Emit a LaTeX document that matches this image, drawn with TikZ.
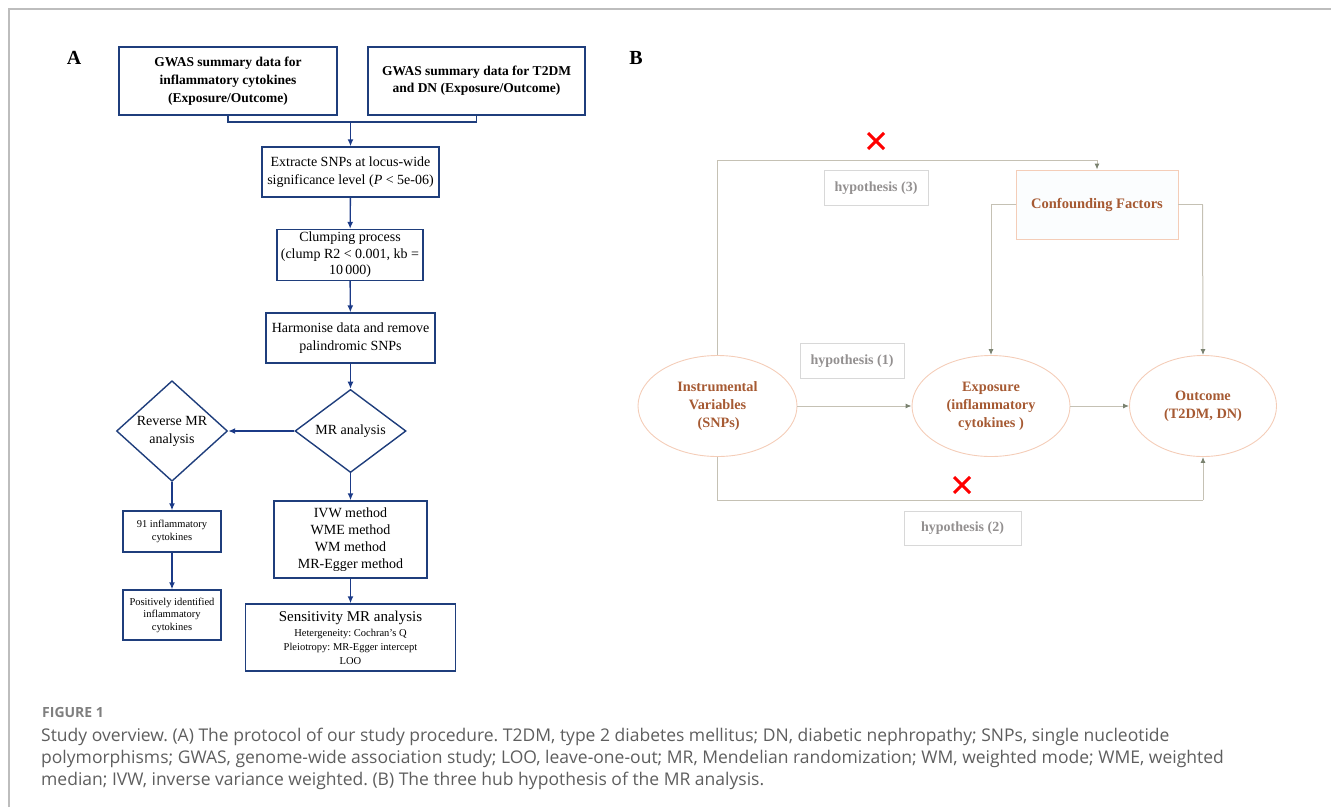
\documentclass[tikz,border=0pt]{standalone}
\usepackage{fontspec}
\setmainfont{Liberation Serif}
\newfontfamily\capfont{Open Sans}
\usetikzlibrary{arrows.meta,shapes.geometric,calc}
\definecolor{navy}{HTML}{1F3E7C}
\definecolor{navyarrow}{HTML}{1B3A87}
\definecolor{blinec}{HTML}{C5C1B4}
\definecolor{btip}{HTML}{7A8270}
\definecolor{ellborder}{HTML}{F4CDB8}
\definecolor{brown}{HTML}{A65A33}
\definecolor{hypgray}{HTML}{939090}
\definecolor{hypborder}{HTML}{D8D8D8}
\definecolor{framegray}{HTML}{BDBDBD}
\definecolor{capgray}{HTML}{5E5E5E}
\definecolor{figgray}{HTML}{7F7F7F}
\tikzset{
  abox/.style={draw=navy, line width=1.4pt, align=center, inner sep=0pt, font=\fontsize{13.5}{16}\selectfont},
  adia/.style={draw=navy, line width=1.4pt, diamond, align=center, inner sep=0pt, font=\fontsize{14}{18}\selectfont},
  aarrow/.style={navyarrow, line width=1.4pt, -{Latex[length=7pt,width=6pt]}},
  bell/.style={draw=ellborder, line width=0.9pt, ellipse, align=center, inner sep=0pt, text=brown, font=\bfseries\fontsize{14.3}{18}\selectfont},
  bhyp/.style={draw=hypborder, line width=1pt, align=center, inner sep=0pt, text=hypgray, font=\bfseries\fontsize{14}{16}\selectfont},
  barrow/.style={blinec, line width=1pt, -{Latex[length=6pt,width=5pt,color=btip]}},
  bline/.style={blinec, line width=1pt},
  redx/.style={red, line width=3pt},
  capline/.style={anchor=base west, inner sep=0pt, text=capgray, font=\capfont\fontsize{17.5}{22}\selectfont},
}
\begin{document}
\frenchspacing
\begin{tikzpicture}[x=1pt,y=-1pt]
\useasboundingbox (0,0) rectangle (1331,807);
% frame
\draw[framegray, line width=1.6pt] (9,807) -- (9,9) -- (1331,9);
% panel labels
\node[font=\bfseries\fontsize{20}{22}\selectfont] (lA) at (74,58) {A};
\node[font=\bfseries\fontsize{20}{22}\selectfont] (lB) at (636,58) {B};
% ---------- Panel A ----------
\node[abox, minimum width=218pt, minimum height=68pt, font=\bfseries\fontsize{13.5}{18}\selectfont] (b1) at (228,81) {GWAS summary data for\\inflammatory cytokines\\(Exposure/Outcome)};
\node[abox, minimum width=217pt, minimum height=68pt, font=\bfseries\fontsize{13.5}{17}\selectfont] (b2) at (476.5,81) {GWAS summary data for T2DM\\and DN (Exposure/Outcome)};
\node[abox, minimum width=177pt, minimum height=50pt, font=\fontsize{14}{18}\selectfont] (b3) at (350.5,172) {Extracte SNPs at locus-wide\\significance level (\textit{P} < 5e-06)};
\node[abox, minimum width=146pt, minimum height=51pt, font=\fontsize{14}{16.5}\selectfont] (b4) at (350,255) {Clumping process\\(clump R2 < 0.001, kb =\\10\,000)};
\node[abox, minimum width=169pt, minimum height=50pt, font=\fontsize{14}{18}\selectfont] (b5) at (350.5,338) {Harmonise data and remove\\palindromic SNPs};
\node[adia, minimum width=111pt, minimum height=82pt] (mr) at (350.5,431) {MR analysis};
\node[adia, minimum width=111pt, minimum height=82pt] (rmr) at (172,431) {Reverse MR\\analysis};
\node[abox, minimum width=153pt, minimum height=77pt, font=\fontsize{14}{17}\selectfont] (b6) at (350.5,539.5) {IVW method\\WME method\\WM method\\MR-Egger method};
\node[abox, minimum width=210pt, minimum height=67pt] (b7) at (350.5,637.5) {{\fontsize{15}{17}\selectfont Sensitivity MR analysis}\\[-1pt]{\fontsize{10.5}{12}\selectfont Hetergeneity: Cochran's Q}\\[-2pt]{\fontsize{10.5}{12}\selectfont Pleiotropy: MR-Egger intercept}\\[-2pt]{\fontsize{10.5}{12}\selectfont LOO}};
\node[abox, minimum width=98pt, minimum height=41pt, font=\fontsize{10.5}{13}\selectfont] (b8) at (172,531.5) {91 inflammatory\\cytokines};
\node[abox, minimum width=98pt, minimum height=50pt, font=\fontsize{10.5}{12.5}\selectfont] (b9) at (172,615) {Positively identified\\inflammatory\\cytokines};
\coordinate (j) at (350.5,122);
\draw[navy, line width=1.4pt] (b1.south) |- (j) -| (b2.south);
\draw[aarrow] (j) -- (b3.north);
\draw[aarrow] (b3) -- (b4);
\draw[aarrow] (b4) -- (b5);
\draw[aarrow] (b5) -- (mr.north);
\draw[aarrow] (mr.west) -- (rmr.east);
\draw[aarrow] (mr.south) -- (b6.north);
\draw[aarrow] (b6) -- (b7);
\draw[aarrow] (rmr.south) -- (b8.north);
\draw[aarrow] (b8) -- (b9);
% ---------- Panel B ----------
\node[bell, minimum width=159pt, minimum height=101pt] (iv) at (717.5,406) {Instrumental\\Variables\\\,(SNPs)};
\node[bell, minimum width=158pt, minimum height=101pt] (ex) at (991,406) {Exposure\\(inflammatory\\cytokines )};
\node[bell, minimum width=147pt, minimum height=101pt] (out) at (1203,406) {Outcome\\(T2DM, DN)};
\node[draw=ellborder, line width=0.9pt, fill={rgb,255:red,251;green,253;blue,254}, minimum width=162pt, minimum height=69pt, inner sep=0pt, text=brown, font=\bfseries\fontsize{14.5}{16}\selectfont] (cf) at (1097,204.5) {Confounding Factors};
\node[bhyp, minimum width=104pt, minimum height=35pt] (h3) at (876,188) {hypothesis (3)};
\node[bhyp, minimum width=104pt, minimum height=35pt] (h1) at (852,361) {hypothesis (1)};
\node[bhyp, minimum width=117pt, minimum height=34pt] (h2) at (962.5,528) {hypothesis (2)};
\coordinate (t1) at (717.5,160);
\coordinate (t2) at (1097,160);
\draw[bline] (iv.north) -- (t1) -- (t2);
\draw[barrow] (t2) -- (cf.north);
\coordinate (c1) at (991,204.5);
\coordinate (c2) at (1202.5,204.5);
\draw[bline] (cf.west) -- (c1);
\draw[barrow] (c1) -- (ex.north);
\draw[bline] (cf.east) -- (c2);
\draw[barrow] (c2) -- (out.north);
\draw[barrow] (iv.east) -- (ex.west);
\draw[barrow] (ex.east) -- (out.west);
\coordinate (d1) at (717.5,500);
\coordinate (d2) at (1203,500);
\draw[bline] (iv.south) -- (d1) -- (d2);
\draw[barrow] (d2) -- (out.south);
% red crosses
\coordinate (x3) at (876,141);
\coordinate (x2) at (962,485);
\draw[redx] ($(x3)+(-8,-8)$) -- ($(x3)+(8,8)$) ($(x3)+(-8,8)$) -- ($(x3)+(8,-8)$);
\draw[redx] ($(x2)+(-8,-8)$) -- ($(x2)+(8,8)$) ($(x2)+(-8,8)$) -- ($(x2)+(8,-8)$);
% ---------- Caption ----------
\node[anchor=base west, inner sep=0pt, text=figgray, font=\capfont\bfseries\fontsize{14}{16}\selectfont] (fig) at (42,717) {FIGURE 1};
\node[capline] (cap1) at (41,741) {Study overview. (A) The protocol of our study procedure. T2DM, type 2 diabetes mellitus; DN, diabetic nephropathy; SNPs, single nucleotide};
\node[capline] (cap2) at (41,763) {polymorphisms; GWAS, genome-wide association study; LOO, leave-one-out; MR, Mendelian randomization; WM, weighted mode; WME, weighted};
\node[capline] (cap3) at (41,785) {median; IVW, inverse variance weighted. (B) The three hub hypothesis of the MR analysis.};
\end{tikzpicture}
\end{document}
